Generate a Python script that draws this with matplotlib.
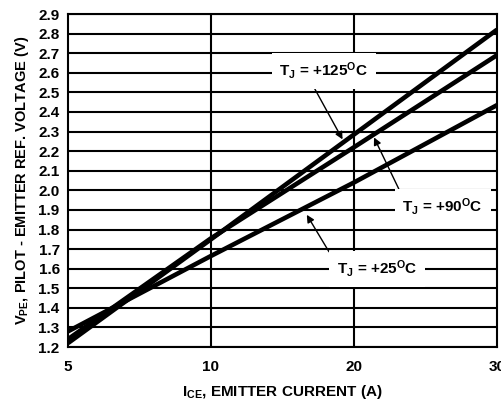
import numpy as np
import matplotlib
matplotlib.use("Agg")
import matplotlib.pyplot as plt

plt.rcParams["font.family"] = ["Liberation Sans", "DejaVu Sans"]
plt.rcParams["font.weight"] = "bold"
plt.rcParams["mathtext.fontset"] = "custom"
plt.rcParams["mathtext.rm"] = "Liberation Sans:bold"
plt.rcParams["mathtext.bf"] = "Liberation Sans:bold"
plt.rcParams["mathtext.it"] = "Liberation Sans:bold"
plt.rcParams["mathtext.default"] = "bf"

# emitter current (A) and pilot-emitter voltage (V)
current = [5, 10, 20, 30]
v_125 = [1.22, 1.75, 2.285, 2.82]
v_90 = [1.24, 1.755, 2.22, 2.69]
v_25 = [1.28, 1.665, 2.04, 2.435]

x_ticks = [5, 10, 20, 30]
y_ticks = [1.2, 1.3, 1.4, 1.5, 1.6, 1.7, 1.8, 1.9, 2.0, 2.1, 2.2, 2.3, 2.4, 2.5, 2.6, 2.7, 2.8, 2.9]

tick_pos = [0, 1, 2, 3]


def fwd(x):
    return np.interp(x, x_ticks, tick_pos)


def inv(p):
    return np.interp(p, tick_pos, x_ticks)


fig = plt.figure(figsize=(5.01, 4.04), dpi=100)
ax = fig.add_axes([0.1357, 0.141, 0.8563, 0.8243])
ax.set_xscale("function", functions=(fwd, inv))
ax.set_xlim(5, 30)
ax.set_ylim(1.2, 2.9)

for y in y_ticks:
    ax.axhline(y, color="black", lw=1.5, zorder=1)
for x in [10, 20]:
    ax.axvline(x, color="black", lw=1.5, zorder=1)

for v in (v_125, v_90, v_25):
    ax.plot(current, v, color="black", lw=3.3, solid_capstyle="butt", zorder=3)

ax.set_xticks(x_ticks)
ax.set_xticklabels([str(t) for t in x_ticks])
ax.set_yticks(y_ticks)
ax.set_yticklabels([f"{t:.1f}" for t in y_ticks])
ax.tick_params(length=0, labelsize=11, pad=6)
ax.tick_params(axis="x", pad=9)
for s in ax.spines.values():
    s.set_linewidth(1.5)

ax.set_xlabel(r"I$_{CE}$, EMITTER CURRENT (A)", fontsize=11, fontweight="bold", labelpad=7)
ax.set_ylabel(r"V$_{PE}$, PILOT - EMITTER REF. VOLTAGE (V)", fontsize=10.5, fontweight="bold", labelpad=5)

box = dict(boxstyle="square,pad=0.5", fc="white", ec="none")
arrow = dict(arrowstyle="-|>", color="black", lw=1, mutation_scale=11, shrinkA=0, shrinkB=0)

ax.annotate(r"T$_J$ = +125$^O$C", xy=(19.2, 2.26), xytext=(17.9, 2.61),
            ha="center", va="center", fontsize=11, bbox=box, zorder=5,
            arrowprops=dict(arrow, relpos=(0.35, 0)))
ax.annotate(r"T$_J$ = +90$^O$C", xy=(21.4, 2.27), xytext=(26.2, 1.915),
            ha="center", va="center", fontsize=11, bbox=box, zorder=5,
            arrowprops=dict(arrow, relpos=(0.0, 1.0)))
ax.annotate(r"T$_J$ = +25$^O$C", xy=(16.7, 1.875), xytext=(21.6, 1.6),
            ha="center", va="center", fontsize=11, bbox=box, zorder=5,
            arrowprops=dict(arrow, relpos=(0.0, 0.7)))

fig.savefig("out.png", dpi=100)
